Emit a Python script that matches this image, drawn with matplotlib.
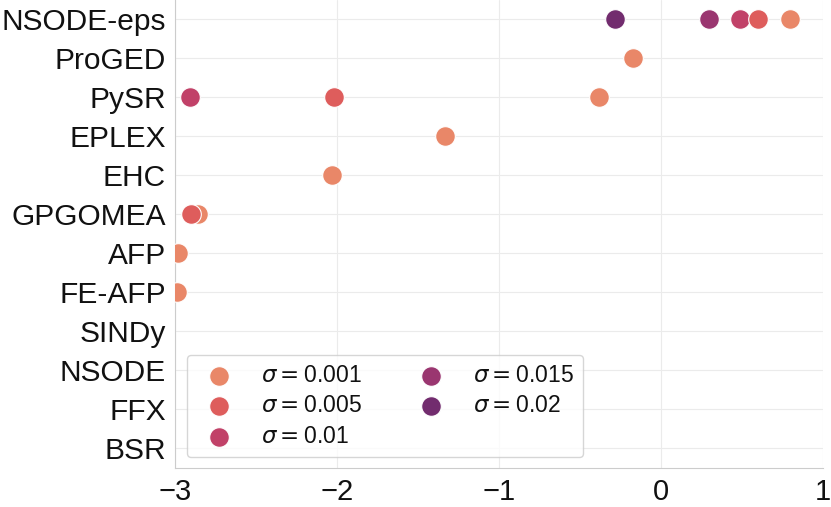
import matplotlib
matplotlib.use("Agg")
import matplotlib.pyplot as plt
import seaborn as sns

# methods, top to bottom
methods = ["NSODE-eps", "ProGED", "PySR", "EPLEX", "EHC", "GPGOMEA",
           "AFP", "FE-AFP", "SINDy", "NSODE", "FFX", "BSR"]
sigma_labels = ["0.001", "0.005", "0.01", "0.015", "0.02"]

# (method, value) per noise level
points_001 = [("NSODE-eps", 0.80), ("ProGED", -0.17), ("PySR", -0.38),
              ("EPLEX", -1.33), ("EHC", -2.03), ("GPGOMEA", -2.86),
              ("AFP", -2.98), ("FE-AFP", -2.99)]
points_005 = [("NSODE-eps", 0.60), ("PySR", -2.02), ("GPGOMEA", -2.90)]
points_01 = [("NSODE-eps", 0.49), ("PySR", -2.91)]
points_015 = [("NSODE-eps", 0.30)]
points_02 = [("NSODE-eps", -0.28)]

all_points = [points_001, points_005, points_01, points_015, points_02]

sns.set_style("whitegrid")
plt.rcParams["font.family"] = ["Liberation Sans", "DejaVu Sans"]
plt.rcParams["text.color"] = "#111111"
plt.rcParams["xtick.color"] = "#111111"
plt.rcParams["ytick.color"] = "#111111"

colors = sns.color_palette("flare", 5)

fig, ax = plt.subplots(figsize=(8.31, 5.07), dpi=100)
fig.subplots_adjust(left=0.2106, right=0.990, top=1.0, bottom=0.077)

ypos = {m: i for i, m in enumerate(methods)}
# draw order so overlapping dots stack as in the original
draw_order = [0, 4, 3, 2, 1]
handles = {}
for k in draw_order:
    pts = all_points[k]
    xs = [v for m, v in pts]
    ys = [ypos[m] for m, v in pts]
    h = ax.scatter(xs, ys, s=200, color=colors[k], edgecolor="white",
                   linewidth=0.8, zorder=3)
    handles[k] = h

ax.set_yticks(range(len(methods)))
ax.set_yticklabels(methods, fontsize=21.5)
ax.set_ylim(len(methods) - 0.5, -0.5)
ax.set_xlim(-3, 1)
ax.set_xticks([-3, -2, -1, 0, 1])
ax.tick_params(axis="x", labelsize=21)
ax.tick_params(axis="y", pad=3)
ax.grid(True, color="#ebebeb")
sns.despine(ax=ax, top=True, right=True)

leg = ax.legend([handles[k] for k in range(5)],
                [r"$\sigma = $" + s for s in sigma_labels],
                ncol=2, loc="lower left", fontsize=16.5, frameon=True,
                bbox_to_anchor=(0.018, 0.023), borderaxespad=0,
                columnspacing=2.0, handletextpad=0.85, labelspacing=0.33,
                borderpad=0.4, handlelength=2.0)

fig.savefig("out.png", dpi=100)
